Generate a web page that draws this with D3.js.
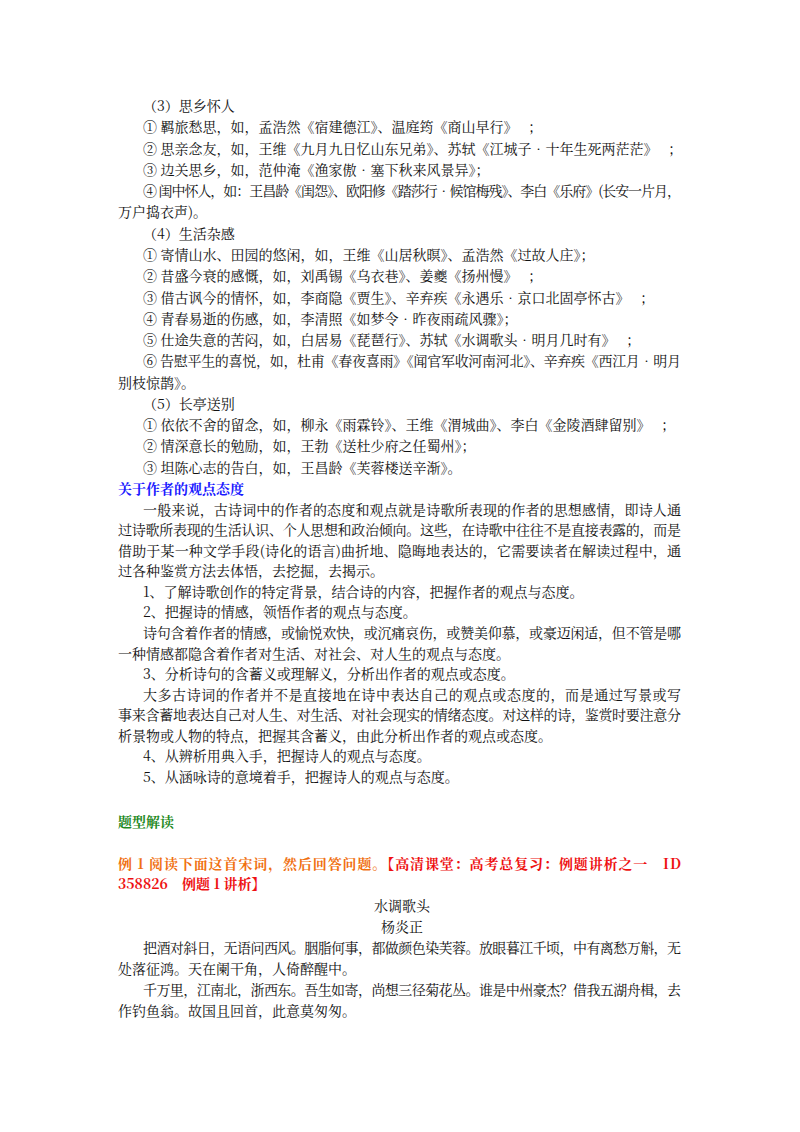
<!DOCTYPE html>
<html><head><meta charset="utf-8">
<script src="https://cdn.jsdelivr.net/npm/d3@7/dist/d3.min.js"></script>
<style>body{margin:0;background:#fff}</style></head>
<body><script>
const section1 = [
 ["（3）思乡怀人","i"],
 ["① 羁旅愁思，如，孟浩然《宿建德江》、温庭筠《商山早行》　 ；","i"],
 ["② 思亲念友，如，王维《九月九日忆山东兄弟》、苏轼《江城子•十年生死两茫茫》　 ；","i"],
 ["③ 边关思乡，如，范仲淹《渔家傲•塞下秋来风景异》；","i"],
 ["④ 闺中怀人，如：王昌龄《闺怨》、欧阳修《踏莎行•候馆梅残》、李白《乐府》(长安一片月，","ij"],
 ["万户捣衣声)。","n"],
 ["（4）生活杂感","i"],
 ["① 寄情山水、田园的悠闲，如，王维《山居秋暝》、孟浩然《过故人庄》；","i"],
 ["② 昔盛今衰的感慨，如，刘禹锡《乌衣巷》、姜夔《扬州慢》　 ；","i"],
 ["③ 借古讽今的情怀，如，李商隐《贾生》、辛弃疾《永遇乐•京口北固亭怀古》　 ；","i"],
 ["④ 青春易逝的伤感，如，李清照《如梦令•昨夜雨疏风骤》；","i"],
 ["⑤ 仕途失意的苦闷，如，白居易《琵琶行》、苏轼《水调歌头•明月几时有》　 ；","i"],
 ["⑥ 告慰平生的喜悦，如，杜甫《春夜喜雨》《闻官军收河南河北》、辛弃疾《西江月•明月","ij"],
 ["别枝惊鹊》。","n"],
 ["（5）长亭送别","i"],
 ["① 依依不舍的留念，如，柳永《雨霖铃》、王维《渭城曲》、李白《金陵酒肆留别》　 ；","i"],
 ["② 情深意长的勉励，如，王勃《送杜少府之任蜀州》；","i"],
 ["③ 坦陈心志的告白，如，王昌龄《芙蓉楼送辛渐》。","i"],
 ["关于作者的观点态度","nblue"],
 ["一般来说，古诗词中的作者的态度和观点就是诗歌所表现的作者的思想感情，即诗人通","ij"],
 ["过诗歌所表现的生活认识、个人思想和政治倾向。这些，在诗歌中往往不是直接表露的，而是","nj"],
 ["借助于某一种文学手段(诗化的语言)曲折地、隐晦地表达的，它需要读者在解读过程中，通","nj"],
 ["过各种鉴赏方法去体悟，去挖掘，去揭示。","n"],
 ["1、了解诗歌创作的特定背景，结合诗的内容，把握作者的观点与态度。","i"],
 ["2、把握诗的情感，领悟作者的观点与态度。","i"],
 ["诗句含着作者的情感，或愉悦欢快，或沉痛哀伤，或赞美仰慕，或豪迈闲适，但不管是哪","ij"],
 ["一种情感都隐含着作者对生活、对社会、对人生的观点与态度。","n"],
 ["3、分析诗句的含蓄义或理解义，分析出作者的观点或态度。","i"],
 ["大多古诗词的作者并不是直接地在诗中表达自己的观点或态度的，而是通过写景或写","ij"],
 ["事来含蓄地表达自己对人生、对生活、对社会现实的情绪态度。对这样的诗，鉴赏时要注意分","nj"],
 ["析景物或人物的特点，把握其含蓄义，由此分析出作者的观点或态度。","n"],
 ["4、从辨析用典入手，把握诗人的观点与态度。","i"],
 ["5、从涵咏诗的意境着手，把握诗人的观点与态度。","i"]
];
const heading2 = "题型解读";
const example1a = "例 1  阅读下面这首宋词，然后回答问题。";
const example1b = "【高清课堂：高考总复习：例题讲析之一　ID";
const example1c = "358826　例题 1 讲析】";
const poemTitle = ["水调歌头","杨炎正"];
const poem = [
 ["把酒对斜日，无语问西风。胭脂何事，都做颜色染芙蓉。放眼暮江千顷，中有离愁万斛，无","ij"],
 ["处落征鸿。天在阑干角，人倚醉醒中。","n"],
 ["千万里，江南北，浙西东。吾生如寄，尚想三径菊花丛。谁是中州豪杰？借我五湖舟楫，去","ij"],
 ["作钓鱼翁。故国且回首，此意莫匆匆。","n"]
];

const W=800,H=1132, L=118, R=681, IND=143, FS=14;
const svg=d3.select("body").append("svg").attr("width",W).attr("height",H);
const font="'Noto Serif CJK SC','Noto Sans CJK SC',sans-serif";
function line(g,t,k,y){
  const x = k.includes("i")?IND:L;
  const s=g.append("text").attr("x",x).attr("y",y).attr("font-size",FS).attr("font-family",font).attr("fill","#111").text(t);
  if(k.includes("j")) s.attr("textLength",R-x).attr("lengthAdjust","spacing");
  if(k.includes("blue")) s.attr("fill","#1a1aff").attr("font-weight","bold");
  return s;
}
const y1=d3.scaleLinear().domain([0,18]).range([111,494]);
const yb=d3.scaleLinear().domain([18,32]).range([494,782]);
section1.forEach((d,i)=>line(svg,d[0],d[1], i<=18?y1(i):yb(i)));

svg.append("text").attr("x",L).attr("y",827).attr("font-size",FS).attr("font-family",font)
  .attr("font-weight","bold").attr("fill","#1f8a1f").text(heading2);
const t=svg.append("text").attr("x",L).attr("y",869).attr("font-size",FS).attr("font-family",font).attr("font-weight","bold")
  .attr("textLength",R-L).attr("lengthAdjust","spacing");
t.append("tspan").attr("fill","#f07010").text(example1a);
t.append("tspan").attr("fill","#ee1111").text(example1b);
svg.append("text").attr("x",L).attr("y",889).attr("font-size",FS).attr("font-family",font).attr("font-weight","bold").attr("fill","#ee1111").text(example1c);
poemTitle.forEach((p,i)=>svg.append("text").attr("x",402).attr("y",911+i*21).attr("text-anchor","middle")
  .attr("font-size",FS).attr("font-family",font).attr("fill","#111").text(p));
const yp=d3.scaleLinear().domain([0,3]).range([953,1016]);
poem.forEach((d,i)=>line(svg,d[0],d[1],yp(i)));
</script></body></html>
